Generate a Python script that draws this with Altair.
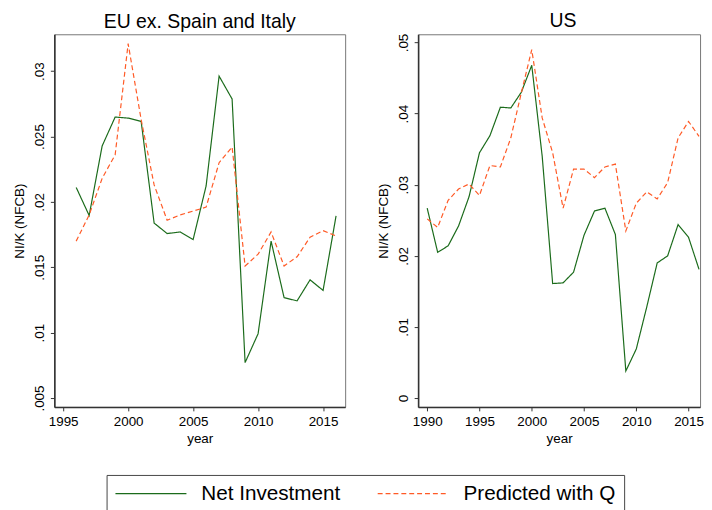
import altair as alt
import pandas as pd

FONT = "Liberation Sans"

series_names = ["Net Investment", "Predicted with Q"]

years_eu = list(range(1996, 2017))
eu_net_investment = [0.02111, 0.01896, 0.02428, 0.02649, 0.02641, 0.02616, 0.01838, 0.01758,
                     0.01770, 0.01712, 0.02122, 0.02962, 0.02787, 0.00771, 0.00992, 0.01700,
                     0.01268, 0.01243, 0.01404, 0.01323, 0.01893]
eu_predicted_q = [0.01700, 0.01900, 0.02180, 0.02360, 0.03210, 0.02630, 0.02130, 0.01860,
                  0.01900, 0.01930, 0.01960, 0.02300, 0.02420, 0.01510, 0.01600, 0.01770,
                  0.01510, 0.01580, 0.01730, 0.01780, 0.01740]

years_us = list(range(1990, 2017))
us_net_investment = [0.0267, 0.0205, 0.0214, 0.0242, 0.0283, 0.0345, 0.0369, 0.0409, 0.0408,
                     0.0430, 0.0468, 0.0340, 0.0161, 0.0162, 0.0177, 0.0229, 0.0263, 0.0267,
                     0.0230, 0.0038, 0.0069, 0.0128, 0.0190, 0.0200, 0.0244, 0.0226, 0.0181]
us_predicted_q = [0.0252, 0.0240, 0.0278, 0.0294, 0.0301, 0.0285, 0.0327, 0.0325, 0.0366,
                  0.0429, 0.0490, 0.0394, 0.0345, 0.0267, 0.0322, 0.0322, 0.0310, 0.0325,
                  0.0329, 0.0235, 0.0274, 0.0290, 0.0280, 0.0303, 0.0366, 0.0389, 0.0368]

eu_xticks = [1995, 2000, 2005, 2010, 2015]
eu_yticks = [0.005, 0.01, 0.015, 0.02, 0.025, 0.03]
us_xticks = [1990, 1995, 2000, 2005, 2010, 2015]
us_yticks = [0.0, 0.01, 0.02, 0.03, 0.04, 0.05]


def long_df(years, a, b):
    rows = []
    for y, v in zip(years, a):
        rows.append({"year": y, "value": v, "series": series_names[0]})
    for y, v in zip(years, b):
        rows.append({"year": y, "value": v, "series": series_names[1]})
    return pd.DataFrame(rows)


df_eu = long_df(years_eu, eu_net_investment, eu_predicted_q)
df_us = long_df(years_us, us_net_investment, us_predicted_q)

ylabel_expr = "datum.value == 0 ? '0' : substring(format(datum.value, '.3~f'), 1)"

color_scale = alt.Scale(domain=series_names, range=["#1b6b1b", "#ff5a26"])
dash_scale = alt.Scale(domain=series_names, range=[[1, 0], [5, 3]])


def panel(df, title, xdom, ydom, xticks, yticks, width):
    return alt.Chart(df, title=title).mark_line(strokeWidth=1.2).encode(
        x=alt.X("year:Q",
                scale=alt.Scale(domain=xdom, nice=False, zero=False),
                axis=alt.Axis(values=xticks, format="d", title="year")),
        y=alt.Y("value:Q",
                scale=alt.Scale(domain=ydom, nice=False, zero=False),
                axis=alt.Axis(values=yticks, labelExpr=ylabel_expr, title="NI/K (NFCB)",
                              labelAngle=-90, titlePadding=6)),
        color=alt.Color("series:N", scale=color_scale, legend=alt.Legend(title=None)),
        strokeDash=alt.StrokeDash("series:N", scale=dash_scale, legend=alt.Legend(title=None)),
    ).properties(width=width, height=378)


left = panel(df_eu, alt.TitleParams("EU ex. Spain and Italy"), [1994.32, 2016.7],
             [0.00432, 0.03282], eu_xticks, eu_yticks, 295)
right = panel(df_us, alt.TitleParams("US", dx=4), [1989.13, 2016.1],
              [-0.00125, 0.05116], us_xticks, us_yticks, 286)

chart = alt.hconcat(left, right, spacing=30).properties(
    padding={"left": 4, "top": -2, "right": 0, "bottom": 0}
).configure(
    font=FONT
).configure_view(
    stroke="#777777", strokeWidth=1
).configure_axis(
    domainColor="#333333", domainWidth=1.6, tickColor="#333333", tickSize=4,
    labelFont=FONT, labelFontSize=13.6, labelColor="#000000",
    titleFont=FONT, titleFontSize=13.6, titleFontWeight="normal", titleColor="#000000",
    grid=False, labelPadding=4, titlePadding=4
).configure_title(
    font=FONT, fontSize=19.7, fontWeight="normal", color="#000000", anchor="middle", offset=3
).configure_legend(
    orient="none", legendX=53, legendY=447, direction="horizontal", columns=2,
    symbolType="stroke", symbolSize=5184, symbolStrokeWidth=1.2, clipHeight=22,
    labelFont=FONT, labelFontSize=21, labelColor="#000000", labelOffset=14,
    columnPadding=36, padding=8, strokeColor="#444444", fillColor="#ffffff"
)

chart.save("out.html", embed_options={"renderer": "svg", "actions": False})
